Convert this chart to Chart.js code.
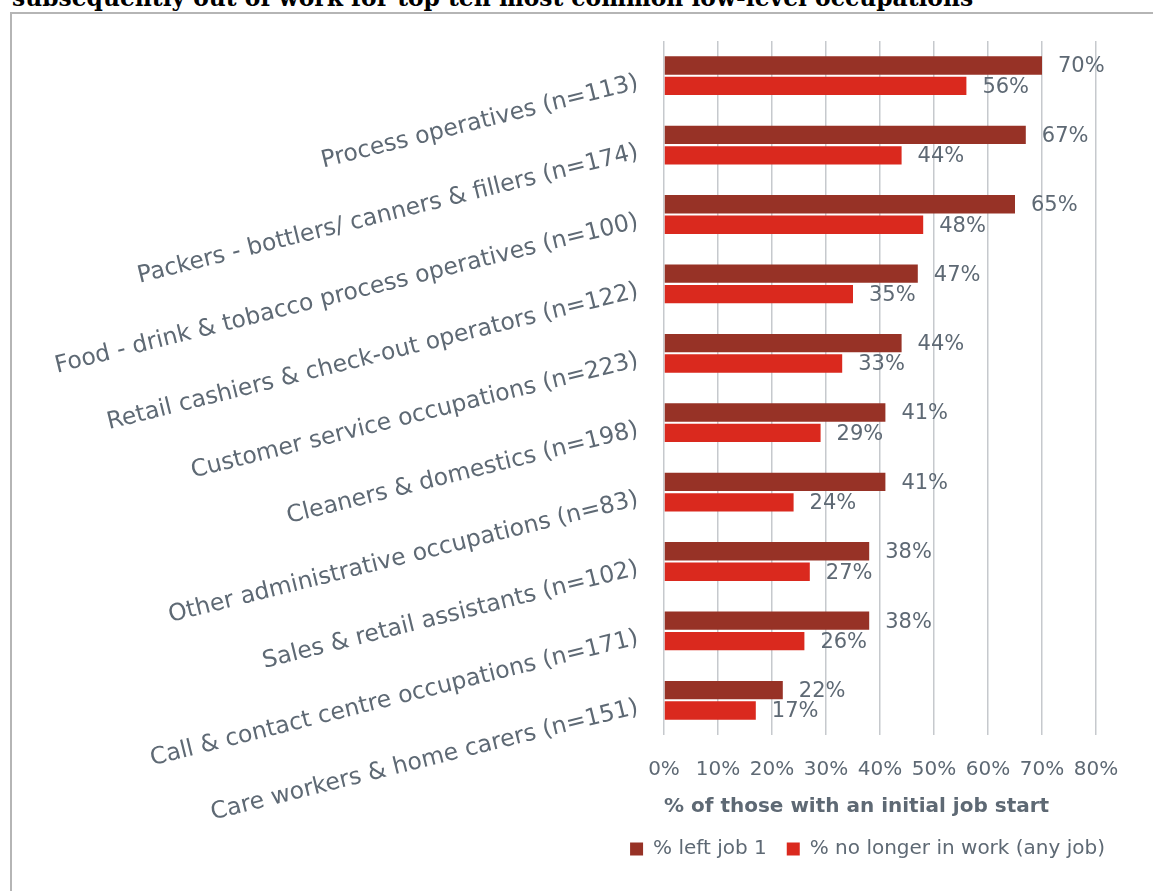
<!DOCTYPE html>
<html>
<head>
<meta charset="utf-8">
<script src="https://cdn.jsdelivr.net/npm/chart.js@4/dist/chart.umd.min.js"></script>
<style>
  html, body { margin: 0; padding: 0; background: #ffffff; overflow: hidden; width: 1153px; height: 891px; }
  #frame { position: absolute; left: 10px; top: 12px; width: 1200px; height: 900px;
           border-left: 2px solid #b5b5b5; border-top: 2px solid #b5b5b5; }
  #heading { position: absolute; left: 12px; top: -12.8px; font: bold 23.4px "DejaVu Serif", serif;
             line-height: 23.4px; color: #000000; white-space: nowrap; }
  #chart { position: absolute; left: 0; top: 0; }
</style>
</head>
<body>
<div id="frame"></div>
<div id="heading">subsequently out of work for top ten most common low-level occupations</div>
<canvas id="chart" width="1153" height="891"></canvas>
<script>
// Occupations, top to bottom
const occupations = [
  'Process operatives (n=113)',
  'Packers - bottlers/ canners & fillers (n=174)',
  'Food - drink & tobacco process operatives (n=100)',
  'Retail cashiers & check-out operators (n=122)',
  'Customer service occupations (n=223)',
  'Cleaners & domestics (n=198)',
  'Other administrative occupations (n=83)',
  'Sales & retail assistants (n=102)',
  'Call & contact centre occupations (n=171)',
  'Care workers & home carers (n=151)'
];

// Percentages of those with an initial job start
const leftJob1 = [70, 67, 65, 47, 44, 41, 41, 38, 38, 22];
const noLongerInWork = [56, 44, 48, 35, 33, 29, 24, 27, 26, 17];

const seriesNames = ['% left job 1', '% no longer in work (any job)'];
const xTickLabels = ['0%', '10%', '20%', '30%', '40%', '50%', '60%', '70%', '80%'];
const axisTitle = '% of those with an initial job start';

const textGrey = '#5e6974';
const gridGrey = '#c6c9cd';
const sans = '"DejaVu Sans", sans-serif';

// Percentage labels written just past the end of each bar
const valueLabels = {
  id: 'valueLabels',
  afterDatasetsDraw(chart) {
    const ctx = chart.ctx;
    ctx.save();
    ctx.font = '21px ' + sans;
    ctx.fillStyle = textGrey;
    ctx.textAlign = 'left';
    ctx.textBaseline = 'middle';
    chart.data.datasets.forEach((ds, di) => {
      chart.getDatasetMeta(di).data.forEach((bar, i) => {
        ctx.fillText(ds.data[i] + '%', bar.x + 16, bar.y + 1.5);
      });
    });
    ctx.restore();
  }
};

new Chart(document.getElementById('chart'), {
  type: 'bar',
  data: {
    labels: occupations,
    datasets: [
      { label: seriesNames[0], data: leftJob1, backgroundColor: '#973226', borderWidth: 0 },
      { label: seriesNames[1], data: noLongerInWork, backgroundColor: '#da291e', borderWidth: 0 }
    ]
  },
  options: {
    indexAxis: 'y',
    responsive: false,
    animation: false,
    devicePixelRatio: 1,
    categoryPercentage: 0.59,
    barPercentage: 0.897,
    layout: { padding: { left: 0, right: 28, top: 41, bottom: 22 } },
    scales: {
      x: {
        min: 0,
        max: 80,
        grid: { color: gridGrey, lineWidth: 1.5, drawTicks: false },
        border: { display: false },
        ticks: {
          stepSize: 10,
          padding: 23,
          color: textGrey,
          font: { family: sans, size: 20 },
          callback: (v, i) => xTickLabels[i]
        },
        title: {
          display: true,
          text: axisTitle,
          align: 'start',
          color: textGrey,
          font: { family: sans, size: 20, weight: 'bold' },
          padding: { top: 13, bottom: 0 }
        },
        afterFit(scale) { scale.height = 84; }
      },
      y: {
        grid: { display: false, drawTicks: false },
        border: { display: false },
        ticks: {
          autoSkip: false,
          minRotation: 14,
          maxRotation: 14,
          padding: 26,
          labelOffset: 7,
          color: textGrey,
          font: { family: sans, size: 23.5 }
        },
        afterFit(scale) { scale.width = 664; }
      },
      yRight: {
        type: 'category',
        position: 'right',
        grid: { display: false, drawTicks: false },
        border: { display: false },
        ticks: { display: false },
        afterFit(scale) { scale.width = 29; }
      }
    },
    plugins: {
      legend: {
        position: 'bottom',
        align: 'end',
        labels: {
          boxWidth: 13,
          boxHeight: 13,
          padding: 20,
          color: textGrey,
          font: { family: sans, size: 20 }
        }
      },
      tooltip: { enabled: false }
    }
  },
  plugins: [valueLabels]
});
</script>
</body>
</html>
